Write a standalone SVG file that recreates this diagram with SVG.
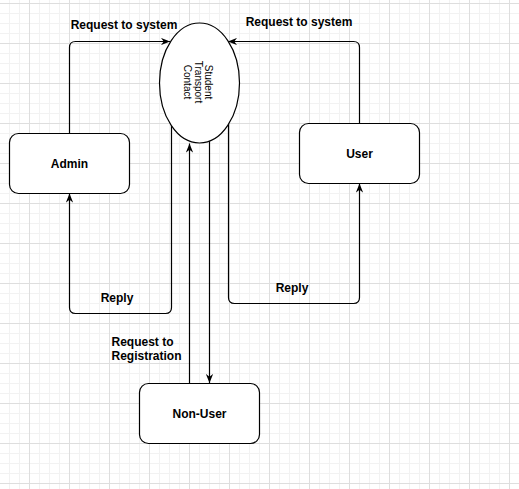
<svg xmlns="http://www.w3.org/2000/svg" width="519" height="489" viewBox="0 0 519 489">
  <defs>
    <pattern id="grid" patternUnits="userSpaceOnUse" x="29" y="3" width="40" height="40">
      <path d="M10.5,0 V40 M20.5,0 V40 M30.5,0 V40 M0,10.5 H40 M0,20.5 H40 M0,30.5 H40" stroke="#f2f2f2" stroke-width="1" fill="none"/>
      <path d="M0.5,0 V40 M0,0.5 H40" stroke="#dedede" stroke-width="1" fill="none"/>
    </pattern>
    <marker id="arrow" viewBox="0 0 10 8" refX="10" refY="4" markerWidth="9" markerHeight="7.5" markerUnits="userSpaceOnUse" orient="auto">
      <path d="M0,0 L10,4 L0,8 L3,4 Z" fill="#000"/>
    </marker>
    <style>
      .box { fill: #fff; stroke: #000; stroke-width: 1.2; }
      .conn { fill: none; stroke: #000; stroke-width: 1.2; marker-end: url(#arrow); }
      .label { font-family: "Liberation Sans", Arial, sans-serif; font-size: 12px; font-weight: bold; fill: #000; }
      .center { text-anchor: middle; }
      .small { font-family: "Liberation Sans", Arial, sans-serif; font-size: 10px; fill: #000; text-anchor: middle; }
    </style>
  </defs>
  <rect width="519" height="489" fill="#fff"/>
  <rect width="519" height="489" fill="url(#grid)"/>

  <g id="connectors">
    <path class="conn" d="M69.5,133 V47.5 Q69.5,41.5 75.5,41.5 H170"/>
    <path class="conn" d="M359.5,123 V47.5 Q359.5,41.5 353.5,41.5 H228"/>
    <path class="conn" d="M171.5,126 V307.5 Q171.5,313.5 165.5,313.5 H75.5 Q69.5,313.5 69.5,307.5 V193.5"/>
    <path class="conn" d="M228.5,124 V297.5 Q228.5,303.5 234.5,303.5 H353.5 Q359.5,303.5 359.5,297.5 V183.5"/>
    <path class="conn" d="M189.5,383 V143.5"/>
    <path class="conn" d="M209.5,141 V383"/>
    <text class="label center" x="124" y="29">Request to system</text>
    <text class="label center" x="299" y="26">Request to system</text>
    <text class="label center" x="117" y="302">Reply</text>
    <text class="label center" x="292" y="292">Reply</text>
    <text class="label" x="111.5" y="346">Request to</text>
    <text class="label" x="111.5" y="360">Registration</text>
  </g>

  <g id="system">
    <ellipse class="box" cx="199.5" cy="83" rx="40" ry="60"/>
    <g transform="rotate(90 198 82)">
      <text class="small" x="198" y="75">Student</text>
      <text class="small" x="198" y="85.5">Transport</text>
      <text class="small" x="198" y="96">Contact</text>
    </g>
  </g>

  <g id="admin">
    <rect class="box" x="9.5" y="133.5" width="120" height="60" rx="9"/>
    <text class="label center" x="69.5" y="168">Admin</text>
  </g>

  <g id="user">
    <rect class="box" x="299.5" y="123.5" width="120" height="60" rx="9"/>
    <text class="label center" x="359.5" y="158">User</text>
  </g>

  <g id="non-user">
    <rect class="box" x="139.5" y="383.5" width="120" height="60" rx="9"/>
    <text class="label center" x="199.5" y="418">Non-User</text>
  </g>
</svg>
